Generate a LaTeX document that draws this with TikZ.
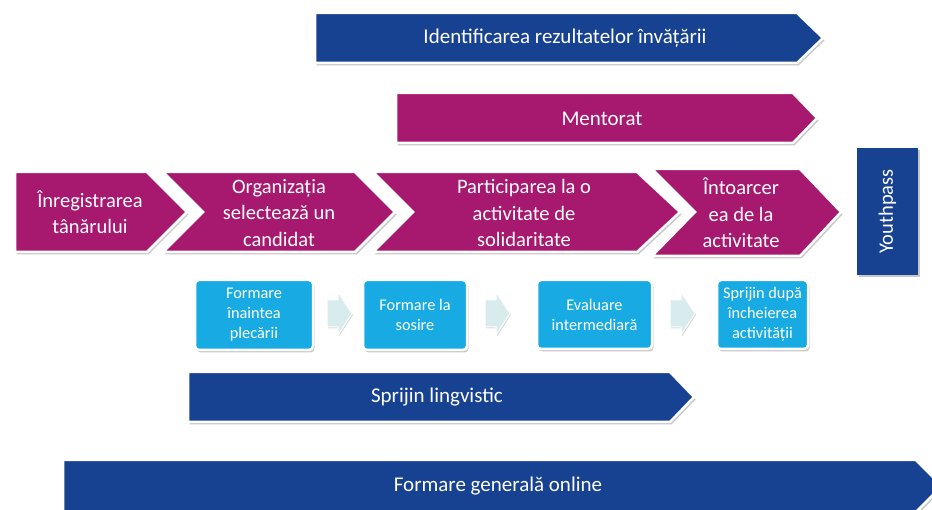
\documentclass[tikz,border=0pt]{standalone}
\usepackage{fontspec}
\setmainfont{Carlito}
\usetikzlibrary{shadows}
\definecolor{mag}{RGB}{167,24,111}
\definecolor{dblue}{RGB}{23,66,145}
\definecolor{lblue}{RGB}{24,170,226}
\definecolor{pale}{RGB}{216,236,238}
\begin{document}
\begin{tikzpicture}[x=1pt,y=-1pt,
  shp/.style={draw=white, line width=2.5pt, line join=miter,
    drop shadow={shadow xshift=1.5pt, shadow yshift=-2.5pt, fill=black, opacity=0.22}},
  magshape/.style={shp, fill=mag},
  blueshape/.style={shp, fill=dblue},
  lbl/.style={text=white, align=center, inner sep=0pt},
  bigtxt/.style={lbl, font=\fontsize{21}{26}\selectfont},
  chevtxt/.style={lbl, font=\fontsize{20.5}{26.5}\selectfont},
  smallbox/.style={shp, fill=lblue, rounded corners=4pt, text=white, align=center,
    inner sep=0pt, font=\fontsize{16.3}{20}\selectfont},
  blockarrow/.style={fill=pale, draw=white, line width=1pt,
    drop shadow={shadow xshift=1pt, shadow yshift=-1.5pt, fill=black, opacity=0.15}}
]
\useasboundingbox (0,0) rectangle (932,510);
\clip (0,0) rectangle (932,510);

% top bands
\path[blueshape] (315,13) -- (797,13) -- (823,38) -- (797,63) -- (315,63) -- cycle;
\node[bigtxt] (ident) at (565,38) {Identificarea rezultatelor învățării};

\path[magshape] (396,93) -- (793,93) -- (817,118) -- (793,143) -- (396,143) -- cycle;
\node[bigtxt] (ment) at (602,119) {Mentorat};

% chevrons
\path[magshape] (15,172) -- (147,172) -- (187,212) -- (147,252) -- (15,252) -- cycle;
\node[chevtxt] (c1) at (90,212) {Înregistrarea\\tânărului};

\path[magshape] (163,172) -- (355,172) -- (395,212) -- (355,252) -- (163,252) -- (203,212) -- cycle;
\node[chevtxt] (c2) at (279,213) {Organizația\\selectează un\\candidat};

\path[magshape] (373,172) -- (637,172) -- (680,212) -- (637,252) -- (373,252) -- (413,212) -- cycle;
\node[chevtxt] (c3) at (524,213) {Participarea la o\\activitate de\\solidaritate};

\path[magshape] (652,169) -- (800,169) -- (841,212) -- (800,256) -- (652,256) -- (695,212) -- cycle;
\node[chevtxt] (c4) at (741,213) {Întoarcer\\ea de la\\activitate};

% Youthpass
\node[blueshape, draw=none, minimum width=127, minimum height=61, rotate=90,
  text=white, font=\fontsize{20.5}{24}\selectfont, inner sep=0pt] (yp) at (887.5,211.5) {Youthpass};

% small boxes
\node[smallbox, minimum width=118, minimum height=70] (b1) at (254,315) {Formare\\înaintea\\plecării};
\node[smallbox, minimum width=104, minimum height=70] (b2) at (415,315) {Formare la\\sosire};
\node[smallbox, minimum width=115, minimum height=69] (b3) at (594.5,314.5) {Evaluare\\intermediară};
\node[smallbox, minimum width=91, minimum height=69] (b4) at (762.5,314.5) {Sprijin după\\încheierea\\activității};

% block arrows between boxes
\path[blockarrow] (327,300) -- (338,300) -- (338,292) -- (352,313.5) -- (338,335) -- (338,327) -- (327,327) -- cycle;
\path[blockarrow] (485,300) -- (496,300) -- (496,292) -- (510,313.5) -- (496,335) -- (496,327) -- (485,327) -- cycle;
\path[blockarrow] (670,300) -- (681,300) -- (681,292) -- (695,313.5) -- (681,335) -- (681,327) -- (670,327) -- cycle;

% bottom bands
\path[blueshape] (188,372) -- (670,372) -- (694,397) -- (670,422) -- (188,422) -- cycle;
\node[bigtxt] (ling) at (437,397) {Sprijin lingvistic};

\path[blueshape] (63,460) -- (916,460) -- (942,486) -- (916,512) -- (63,512) -- cycle;
\node[bigtxt] (online) at (498,486) {Formare generală online};
\end{tikzpicture}
\end{document}
